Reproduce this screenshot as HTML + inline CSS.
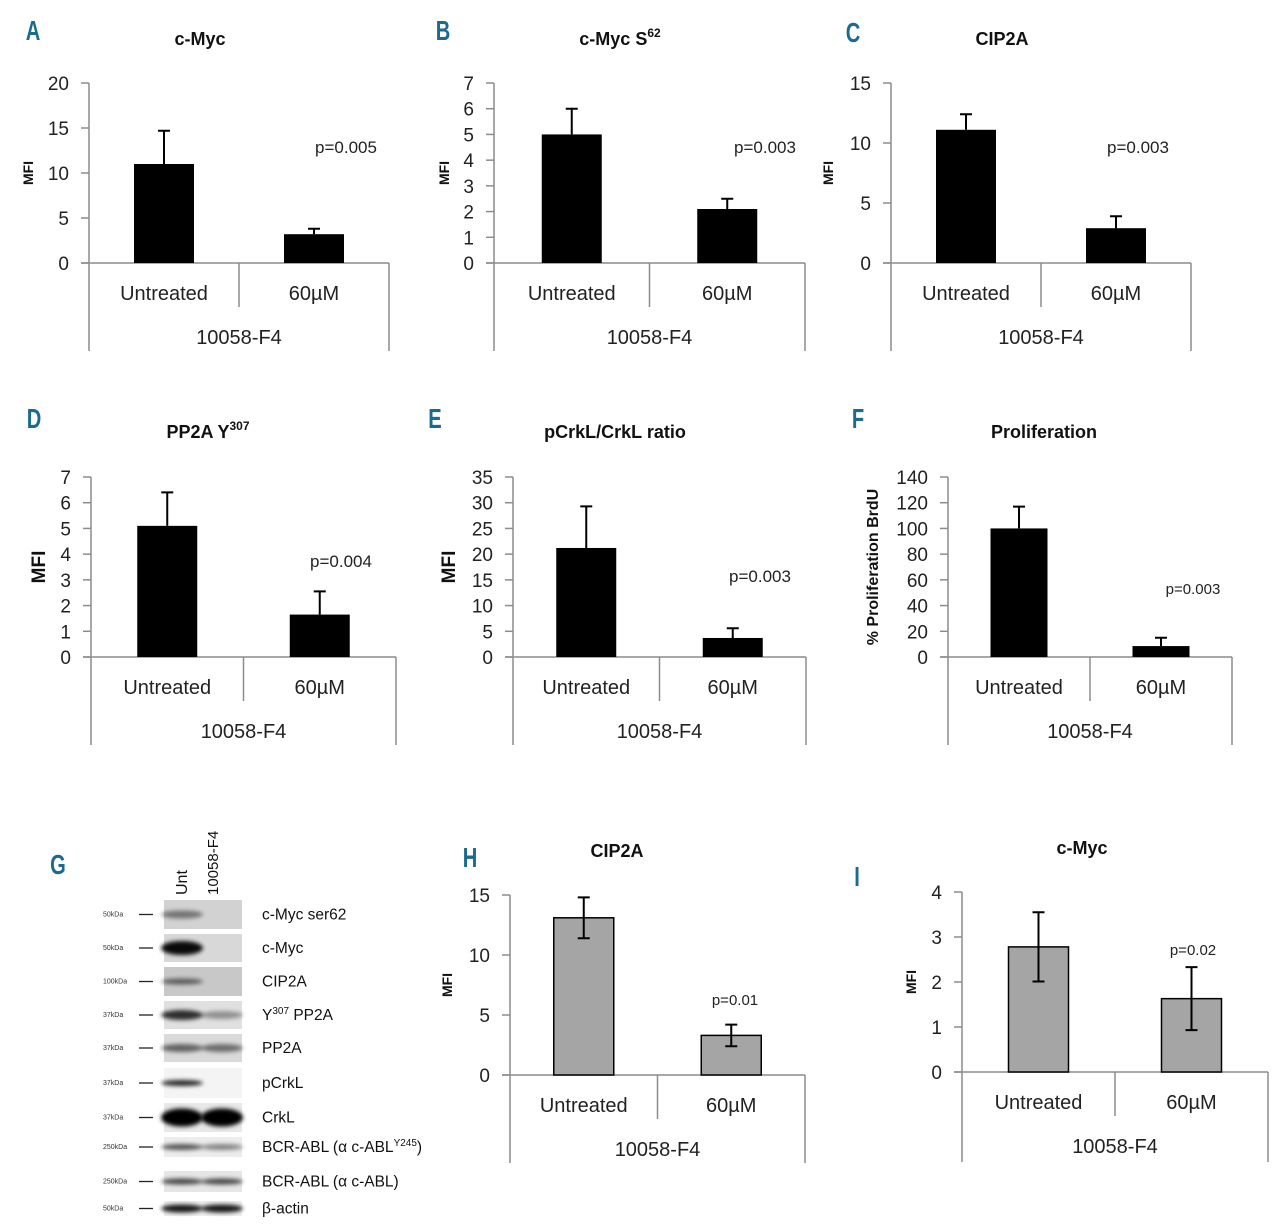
<!DOCTYPE html>
<html><head><meta charset="utf-8">
<style>
html,body{margin:0;padding:0;background:#fff;}
svg{display:block;font-family:"Liberation Sans",sans-serif;}
</style></head>
<body>
<svg id="fig" width="1280" height="1228" viewBox="0 0 1280 1228" xmlns="http://www.w3.org/2000/svg">
<defs>
<filter id="blur" x="-30%" y="-200%" width="160%" height="500%"><feGaussianBlur stdDeviation="2"/></filter>
</defs>
<g id="charts"></g>
<g id="blot"></g>
</svg>
<script>
// ---- Chart data ----
const categories = ["Untreated", "60\u00b5M"];
const groupLabel = "10058-F4";
const aValues = [11.0, 3.2];   const aErr = [3.7, 0.6];
const bValues = [5.0, 2.1];    const bErr = [1.0, 0.4];
const cValues = [11.1, 2.9];   const cErr = [1.3, 1.0];
const dValues = [5.1, 1.65];   const dErr = [1.3, 0.9];
const eValues = [21.2, 3.7];   const eErr = [8.1, 1.9];
const fValues = [100, 8.5];    const fErr = [17, 6.5];
const hValues = [13.1, 3.3];   const hErr = [1.7, 0.9];
const iValues = [2.78, 1.63];  const iErr = [0.77, 0.7];
const aTicks = [0,5,10,15,20];
const bTicks = [0,1,2,3,4,5,6,7];
const cTicks = [0,5,10,15];
const dTicks = [0,1,2,3,4,5,6,7];
const eTicks = [0,5,10,15,20,25,30,35];
const fTicks = [0,20,40,60,80,100,120,140];
const hTicks = [0,5,10,15];
const iTicks = [0,1,2,3,4];

const NS = "http://www.w3.org/2000/svg";
function mk(tag, attrs, parent, text){
  const e = document.createElementNS(NS, tag);
  for (const k in attrs) e.setAttribute(k, attrs[k]);
  if (text !== undefined) e.textContent = text;
  parent.appendChild(e);
  return e;
}
const root = document.getElementById('charts');

function chart(cfg){
  const g = mk('g', {}, root);
  
  
  const ymax = cfg.ticks[cfg.ticks.length-1];
  const y = v => cfg.y0 - (v / ymax) * (cfg.y0 - cfg.yTop);
  const xl = cfg.x0, xr = cfg.xR, xm = (xl + xr) / 2;
  const cx = [(xl + xm) / 2, (xm + xr) / 2];
  const axisCol = '#8c8c8c';
  const L = mk('text', {x: cfg.letter[0], y: cfg.letter[1], 'font-size': 28, 'font-weight': 'bold', fill: '#1b6b8f', 'text-anchor': 'middle', transform:`translate(${cfg.letter[0]},0) scale(0.72,1) translate(${-cfg.letter[0]},0)`}, g, cfg.id.toUpperCase());
  
  
  const T = mk('text', {x: cfg.title[0], y: cfg.title[1], 'font-size': 18, 'font-weight': 'bold', fill: '#111', 'text-anchor': 'middle'}, g);
  
  
  T.appendChild(document.createTextNode(cfg.titleText));
  if (cfg.sup){ mk('tspan', {'font-size': 12, dy: -8}, T, cfg.sup); }
  const yl = mk('text', {x: 0, y: 0, 'font-size': cfg.ylSize || 14, 'font-weight': 'bold', fill: '#111', 'text-anchor': 'middle', transform: `translate(${cfg.ylX},${(cfg.y0+cfg.yTop)/2}) rotate(-90)`}, g, cfg.ylabel || 'MFI');
  
  
  mk('line', {x1: xl, y1: cfg.yTop, x2: xl, y2: cfg.bottom, stroke: axisCol, 'stroke-width': 1.5}, g);
  mk('line', {x1: xr, y1: cfg.y0, x2: xr, y2: cfg.bottom, stroke: axisCol, 'stroke-width': 1.5}, g);
  mk('line', {x1: xm, y1: cfg.y0, x2: xm, y2: cfg.y0 + 44, stroke: axisCol, 'stroke-width': 1.5}, g);
  mk('line', {x1: xl - 8, y1: cfg.y0, x2: xr, y2: cfg.y0, stroke: axisCol, 'stroke-width': 1.5}, g);
  cfg.ticks.forEach(t => {
    mk('line', {x1: xl - 8, y1: y(t), x2: xl, y2: y(t), stroke: axisCol, 'stroke-width': 1.5}, g);
    const tl = mk('text', {x: xl - 20, y: y(t) + 7, 'font-size': 19, fill: '#222', 'text-anchor': 'end'}, g, t);
    
    
  });
  const bw = cfg.bw || 60;
  cfg.values.forEach((v, i) => {
    const fill = cfg.gray ? '#a5a5a5' : '#000';
    const top = y(v + cfg.err[i]);
    const bot = cfg.gray ? y(v - cfg.err[i]) : y(v);
    const b = mk('rect', {x: cx[i] - bw/2, y: y(v), width: bw, height: cfg.y0 - y(v), fill: fill, stroke: '#000', 'stroke-width': cfg.gray ? 1.5 : 0}, g);
    
    
    const eb = mk('path', {d: `M${cx[i]},${bot}V${top}M${cx[i]-6},${top}H${cx[i]+6}` + (cfg.gray ? `M${cx[i]-6},${bot}H${cx[i]+6}` : ''), stroke: '#000', 'stroke-width': 2, fill: 'none'}, g);
    
    
    const cl = mk('text', {x: cx[i], y: cfg.y0 + 37, 'font-size': 20, fill: '#222', 'text-anchor': 'middle'}, g, categories[i]);
    
    
  });
  const gl = mk('text', {x: xm, y: cfg.y0 + 81, 'font-size': 20, fill: '#222', 'text-anchor': 'middle'}, g, groupLabel);
  
  
  const p = mk('text', {x: cfg.p[0], y: cfg.p[1], 'font-size': cfg.pSize || 17, fill: '#222', 'text-anchor': 'middle'}, g, cfg.pText);
  
  
}

chart({id:'a', values:aValues, err:aErr, ticks:aTicks, x0:89, xR:389, y0:263, yTop:83, bottom:351, letter:[33,40], title:[200,45], titleText:'c-Myc', ylX:33, p:[346,153], pText:'p=0.005'});
chart({id:'b', values:bValues, err:bErr, ticks:bTicks, x0:494, xR:805, y0:263, yTop:83, bottom:351, letter:[443,40], title:[620,45], titleText:'c-Myc S', sup:'62', ylX:449, p:[765,153], pText:'p=0.003'});
chart({id:'c', values:cValues, err:cErr, ticks:cTicks, x0:891, xR:1191, y0:263, yTop:83, bottom:351, letter:[853,42], title:[1002,45], titleText:'CIP2A', ylX:833, p:[1138,153], pText:'p=0.003'});
chart({id:'d', values:dValues, err:dErr, ticks:dTicks, x0:91, xR:396, y0:657, yTop:477, bottom:745, letter:[34,428], title:[208,438], titleText:'PP2A Y', sup:'307', ylX:45, ylSize:19, p:[341,567], pText:'p=0.004'});
chart({id:'e', values:eValues, err:eErr, ticks:eTicks, x0:513, xR:806, y0:657, yTop:477, bottom:745, letter:[435,428], title:[615,438], titleText:'pCrkL/CrkL ratio', ylX:455, ylSize:19, p:[760,582], pText:'p=0.003'});
chart({id:'f', values:fValues, err:fErr, ticks:fTicks, x0:948, xR:1232, y0:657, yTop:477, bottom:745, letter:[858,428], title:[1044,438], titleText:'Proliferation', ylX:878, ylSize:16, ylabel:'% Proliferation BrdU', p:[1193,594], pSize:15, pText:'p=0.003', bw:57});
chart({id:'h', values:hValues, err:hErr, ticks:hTicks, x0:510, xR:805, y0:1075, yTop:895, bottom:1163, letter:[470,867], title:[617,857], titleText:'CIP2A', ylX:452, gray:true, p:[735,1005], pSize:15, pText:'p=0.01'});
chart({id:'i', values:iValues, err:iErr, ticks:iTicks, x0:962, xR:1268, y0:1072, yTop:892, bottom:1162, letter:[857,886], title:[1082,854], titleText:'c-Myc', ylX:916, gray:true, p:[1193,955], pSize:15, pText:'p=0.02'});

// ---- Western blot (G) ----
const blotLabels = ["c-Myc ser62","c-Myc","CIP2A","Y307 PP2A","PP2A","pCrkL","CrkL","BCR-ABL (\u03b1 c-ABLY245)","BCR-ABL (\u03b1 c-ABL)","\u03b2-actin"];
const kda = ["50kDa","50kDa","100kDa","37kDa","37kDa","37kDa","37kDa","250kDa","250kDa","50kDa"];
const rowsY = [[900,929],[934,962],[967,996],[1001,1029],[1034,1062],[1068,1098],[1103,1132],[1137,1157],[1171,1192],[1201,1216]];
const bg = ['#d2d2d2','#d8d8d8','#c8c8c8','#e0e0e0','#dadada','#f4f4f4','#e8e8e8','#ececec','#e6e6e6','#eeeeee'];
const band1 = [[0.45,4],[0.95,7],[0.55,3],[0.8,5],[0.55,4],[0.85,3],[1,9],[0.65,3],[0.7,3],[0.9,4]];
const band2 = [[0,0],[0,0],[0,0],[0.35,4],[0.5,4],[0,0],[1,9],[0.45,3],[0.7,3],[0.9,4]];
const bl = document.getElementById('blot');
const G = mk('text', {x:58, y:874, 'font-size':28, 'font-weight':'bold', fill:'#1b6b8f', 'text-anchor':'middle', transform:'translate(58,0) scale(0.72,1) translate(-58,0)'}, bl, 'G');


const u = mk('text', {x:0, y:0, 'font-size':16, fill:'#111', transform:'translate(187,895) rotate(-90)'}, bl, 'Unt');


const u2 = mk('text', {x:0, y:0, 'font-size':15, fill:'#111', transform:'translate(218,895) rotate(-90)'}, bl, '10058-F4');


rowsY.forEach((r, i) => {
  const row = mk('g', {}, bl);
  
  
  mk('rect', {x:164, y:r[0], width:78, height:r[1]-r[0], fill:bg[i]}, row);
  const cy = (r[0]+r[1])/2;
  [[182,band1[i]],[222,band2[i]]].forEach(([bx,b]) => {
    if (b[0] > 0) mk('ellipse', {cx:bx, cy:cy, rx:21, ry:b[1], fill:'#000', opacity:b[0], filter:'url(#blur)'}, row);
  });
  const k = mk('text', {x:103, y:cy+2, 'font-size':7, fill:'#333'}, row, kda[i]);
  
  
  mk('line', {x1:139, y1:cy, x2:153, y2:cy, stroke:'#222', 'stroke-width':1.3}, row);
  const lab = mk('text', {x:262, y:cy+5, 'font-size':15.5, fill:'#111'}, row);
  
  
  if (i === 3){ lab.appendChild(document.createTextNode('Y')); mk('tspan',{'font-size':10,dy:-6},lab,'307'); mk('tspan',{dy:6},lab,' PP2A'); }
  else if (i === 7){ lab.appendChild(document.createTextNode('BCR-ABL (\u03b1 c-ABL')); mk('tspan',{'font-size':10,dy:-6},lab,'Y245'); mk('tspan',{dy:6},lab,')'); }
  else lab.textContent = blotLabels[i];
});
</script>
</body></html>
